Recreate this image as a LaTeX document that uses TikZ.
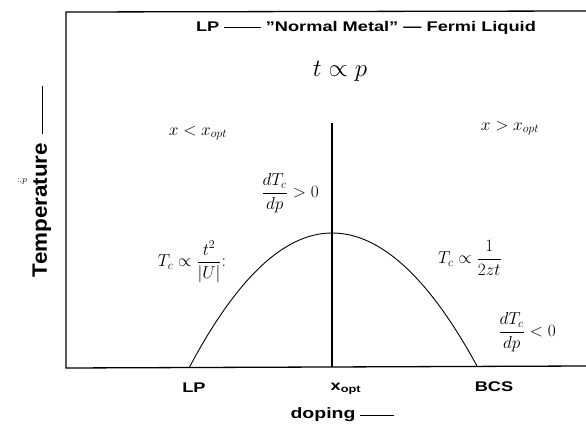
\documentclass[tikz,border=0pt]{standalone}
\usepackage{fontspec}
\setsansfont{Liberation Sans}
\usetikzlibrary{positioning}

\tikzset{
  axisline/.style={line width=1.3pt, line cap=round},
  curveline/.style={line width=0.9pt},
  lbl/.style={font=\sffamily\bfseries\fontsize{14}{16}\selectfont, xscale=1.3, transform shape, inner sep=0pt},
  mathlbl/.style={font=\fontsize{18}{22}\selectfont, inner sep=0pt}
}

\begin{document}
\begin{tikzpicture}[x=1pt,y=-1pt]
\useasboundingbox (0,0) rectangle (586,428);
% frame of the phase diagram
\coordinate (tl) at (66,12);
\coordinate (tr) at (586,11);
\coordinate (bl) at (66,368);
\coordinate (br) at (586,366);
\draw[axisline] (tr) -- (tl) -- (bl) -- (br);

% optimal doping line and Tc dome
\coordinate (opttop) at (332,123);
\coordinate (optbot) at (332,367);
\draw[line width=1.1pt] (opttop) -- (optbot);
\coordinate (lpfoot) at (189,368);
\coordinate (peak) at (332,233);
\coordinate (bcsfoot) at (477,366);
\draw[curveline] (lpfoot) .. controls (236.7,278) and (284.3,233) .. (peak)
  .. controls (380.3,233) and (428.7,277.3) .. (bcsfoot);

% texts inside
\node[lbl, font=\sffamily\bfseries\fontsize{14}{16}\selectfont] (title) at (366,28)
  {LP \rule[0.3em]{2em}{0.8pt} "Normal Metal" --- Fermi Liquid};
\node[mathlbl, font=\fontsize{24}{28}\selectfont] (tp) at (340,71) {$t\propto p$};
\node[mathlbl, font=\fontsize{17}{20}\selectfont] (xlt) at (198,133) {$x<x_{opt}$};
\node[mathlbl, font=\fontsize{17}{20}\selectfont] (xgt) at (510,128) {$x>x_{opt}$};
\node[mathlbl] (dtpos) at (290,193) {$\displaystyle\frac{dT_c}{dp}>0$};
\node[mathlbl] (tcleft) at (192,262) {$\displaystyle T_c\propto\frac{t^2}{|U|}$:};
\node[mathlbl] (tcright) at (470,258) {$\displaystyle T_c\propto\frac{1}{2zt}$};
\node[mathlbl] (dtneg) at (527,332) {$\displaystyle\frac{dT_c}{dp}<0$};

% axis labels
\node[lbl] (lp) at (194,388) {LP};
\node[lbl] (xopt) at (346,389) {x\textsubscript{opt}};
\node[lbl] (bcs) at (494,387) {BCS};
\node[lbl, font=\sffamily\bfseries\fontsize{15}{17}\selectfont] (doping) at (323,415) {doping};
\draw[line width=0.9pt] ([xshift=4pt]doping.east) -- ++(34,0);
\node[lbl, font=\sffamily\bfseries\fontsize{16}{18}\selectfont, rotate=90, xscale=1.4] (temp) at (42,210) {Temperature};
\draw[line width=0.9pt] ([yshift=9pt]temp.east) -- ++(0,-48);
\node[font=\fontsize{9}{10}\selectfont] (mark) at (22,181) {:,$p$};
\end{tikzpicture}
\end{document}
